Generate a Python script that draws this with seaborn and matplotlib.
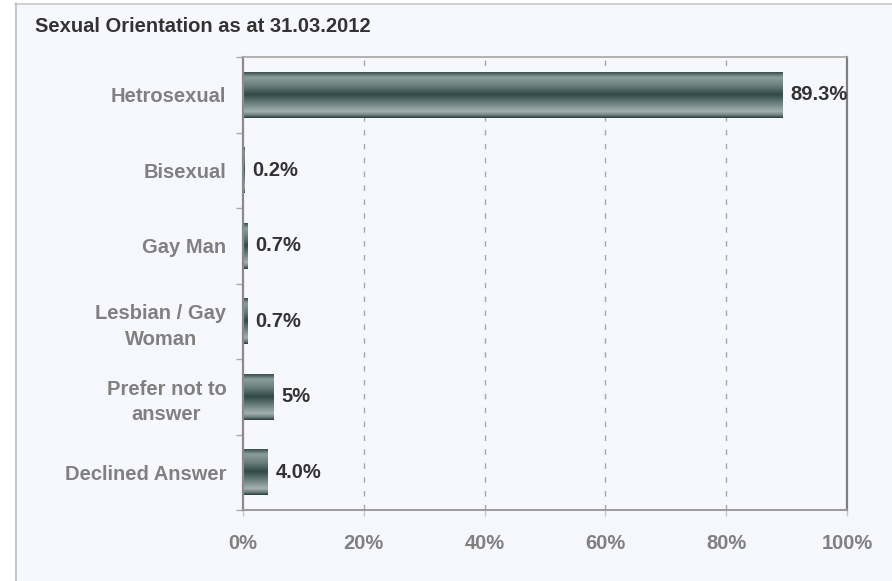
import numpy as np
import pandas as pd
import matplotlib
matplotlib.use("Agg")
import matplotlib.pyplot as plt
from matplotlib.colors import LinearSegmentedColormap
from matplotlib.patches import Rectangle
from matplotlib.lines import Line2D
from matplotlib.ticker import FixedLocator, PercentFormatter
import seaborn as sns

# Survey results
categories = ["Hetrosexual", "Bisexual", "Gay Man", "Lesbian / Gay\nWoman",
              "Prefer not to\nanswer", "Declined Answer"]
percentages = [89.3, 0.2, 0.7, 0.7, 5, 4.0]
value_labels = ["89.3%", "0.2%", "0.7%", "0.7%", "5%", "4.0%"]
x_ticks = [0, 20, 40, 60, 80, 100]
title = "Sexual Orientation as at 31.03.2012"

sns.set_theme(style="white")
plt.rcParams["font.family"] = ["Liberation Sans", "DejaVu Sans"]
plt.rcParams["font.weight"] = "bold"

panel_bg = "#f7f8fd"
label_grey = "#808080"
value_dark = "#333333"
text_size = 14.5

fig = plt.figure(figsize=(8.92, 5.81), dpi=100)
fig.patch.set_facecolor("white")

# Framed panel behind the chart
fig.add_artist(Rectangle((15 / 892, 0), 1, 1 - 3 / 581, transform=fig.transFigure,
                         facecolor=panel_bg, edgecolor="none", zorder=-10))
fig.add_artist(Line2D([15.5 / 892, 15.5 / 892], [0, 1 - 3 / 581], transform=fig.transFigure,
                      color="#bdbdbd", lw=1.2, zorder=-9))
fig.add_artist(Line2D([15 / 892, 1], [1 - 3.5 / 581, 1 - 3.5 / 581], transform=fig.transFigure,
                      color="#c8c8c8", lw=1.2, zorder=-9))

ax = fig.add_axes([243 / 892, 1 - 510 / 581, (847 - 243) / 892, (510 - 57) / 581])
ax.set_facecolor(panel_bg)

df = pd.DataFrame({"category": categories, "percent": percentages})
sns.barplot(data=df, x="percent", y="category", orient="h", width=0.61,
            color="#3a5553", ax=ax, zorder=3)

# Cylinder-style shading across each bar
shade = LinearSegmentedColormap.from_list("cyl", [
    (0.00, "#2c403f"), (0.05, "#4d625f"), (0.13, "#8d9e9a"), (0.30, "#6c807d"),
    (0.50, "#2f4947"), (0.68, "#6b7f7c"), (0.86, "#a4b2af"), (0.94, "#6d7f7c"),
    (1.00, "#263a39")])
gradient = np.linspace(0, 1, 256).reshape(-1, 1)
for bar in list(ax.patches):
    x0, y0 = bar.get_x(), bar.get_y()
    w, h = bar.get_width(), bar.get_height()
    bar.set_facecolor("none")
    bar.set_edgecolor("none")
    img = ax.imshow(gradient, cmap=shade, aspect="auto", interpolation="bilinear",
                    extent=(x0, x0 + w, y0 + h, y0), origin="upper", zorder=3)
    img.set_clip_path(bar)

ax.bar_label(ax.containers[0], labels=value_labels, padding=6,
             fontsize=text_size, fontweight="bold", color=value_dark, zorder=5)

ax.set_xlim(0, 100)
ax.set_ylim(len(categories) - 0.5, -0.5)
ax.set_xlabel("")
ax.set_ylabel("")

# Axis ticks and grid
ax.xaxis.set_major_locator(FixedLocator(x_ticks))
ax.xaxis.set_major_formatter(PercentFormatter(decimals=0))
ax.grid(False)
for x in x_ticks[1:-1]:
    ax.axvline(x, color="#a8a8a8", lw=1.0, ls=(0, (4, 6)), zorder=1)

ax.yaxis.set_minor_locator(FixedLocator(np.arange(-0.5, len(categories), 1.0)))
ax.tick_params(axis="y", which="major", length=0, pad=12, labelsize=text_size,
               labelcolor=label_grey)
ax.tick_params(axis="y", which="minor", left=True, length=5, width=1, color="#a8a8a8")
ax.tick_params(axis="x", which="major", bottom=True, length=4, width=1, color="#c8c8c8",
               pad=13, labelsize=text_size, labelcolor=label_grey)
for lab in ax.get_yticklabels():
    lab.set_multialignment("center")
    lab.set_linespacing(1.45)
    lab.set_fontweight("bold")
for lab in ax.get_xticklabels():
    lab.set_fontweight("bold")

for side, col, lw in [("left", "#8a8a8a", 1.6), ("bottom", "#9a9a9a", 1.4),
                      ("right", "#7f7f7f", 1.6), ("top", "#a6a6a6", 1.2)]:
    ax.spines[side].set_visible(True)
    ax.spines[side].set_color(col)
    ax.spines[side].set_linewidth(lw)
    ax.spines[side].set_zorder(4)

fig.text(35 / 892, 1 - 27 / 581, title, fontsize=14.5, fontweight="bold",
         color=value_dark, ha="left", va="center")

fig.savefig("out.png", dpi=100, facecolor=fig.get_facecolor())
